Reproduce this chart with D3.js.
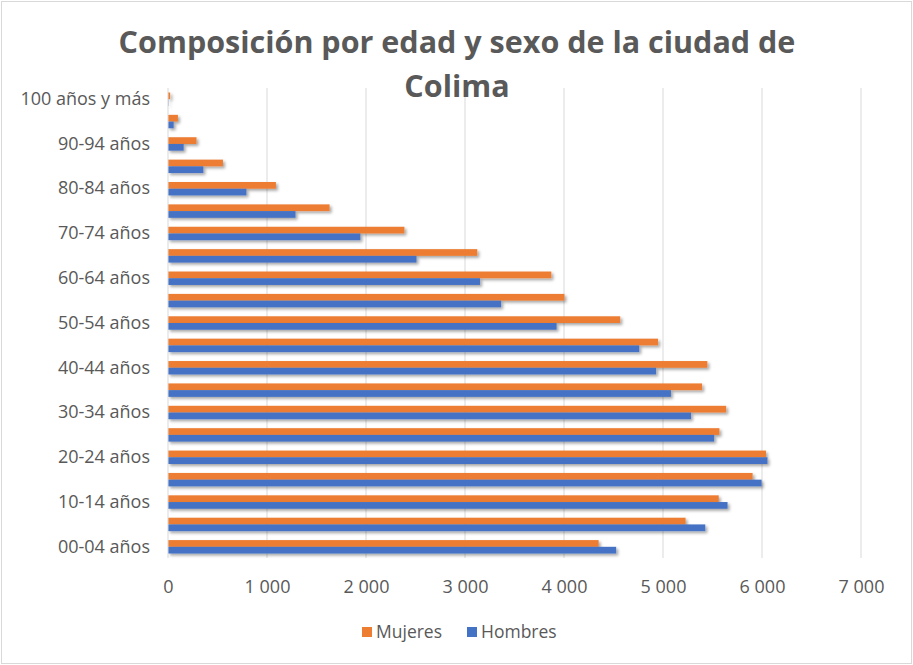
<!DOCTYPE html>
<html>
<head>
<meta charset="utf-8">
<script src="https://cdn.jsdelivr.net/npm/d3@7"></script>
<style>
  body { margin: 0; background: #fff; }
  text { font-family: "Open Sans", Lato, sans-serif; fill: #595959; }
</style>
</head>
<body>
<div id="chart"></div>
<script>
var svgWidth = 913;
var svgHeight = 665;

var margin = { top: 88, right: 52, bottom: 107, left: 168 };
var width = svgWidth - margin.left - margin.right;
var height = svgHeight - margin.top - margin.bottom;

// Age groups, bottom to top as in the picture
var ageGroups = ["00-04 años", "05-09 años", "10-14 años", "15-19 años", "20-24 años",
    "25-29 años", "30-34 años", "35-39 años", "40-44 años", "45-49 años",
    "50-54 años", "55-59 años", "60-64 años", "65-69 años", "70-74 años",
    "75-79 años", "80-84 años", "85-89 años", "90-94 años", "95-99 años", "100 años y más"];

var mujeres = [4350, 5228, 5563, 5905, 6040, 5570, 5638, 5395, 5448, 4950,
    4568, 4004, 3872, 3124, 2388, 1632, 1090, 555, 288, 100, 22];
var hombres = [4527, 5427, 5652, 5996, 6055, 5517, 5283, 5080, 4930, 4760,
    3925, 3365, 3152, 2510, 1943, 1288, 792, 357, 158, 57, 4];

var xTicks = [0, 1000, 2000, 3000, 4000, 5000, 6000, 7000];
var series = [
    { name: "Mujeres", values: mujeres, color: "#ED7D31" },
    { name: "Hombres", values: hombres, color: "#4472C4" }
];

var svg = d3.select("#chart")
    .append("svg")
    .attr("width", svgWidth)
    .attr("height", svgHeight);

// shadow like the spreadsheet bars
var defs = svg.append("defs");
var filter = defs.append("filter")
    .attr("id", "shadow")
    .attr("x", "-5%").attr("y", "-50%")
    .attr("width", "115%").attr("height", "250%");
filter.append("feDropShadow")
    .attr("dx", 2).attr("dy", 2)
    .attr("stdDeviation", 1.5)
    .attr("flood-color", "#000")
    .attr("flood-opacity", 0.35);

// outer frame
svg.append("rect")
    .attr("x", 1.5).attr("y", 1.5)
    .attr("width", svgWidth - 3).attr("height", svgHeight - 3)
    .attr("fill", "#fff")
    .attr("stroke", "#d9d9d9")
    .attr("stroke-width", 1);

var chartGroup = svg.append("g")
    .attr("transform", `translate(${margin.left}, ${margin.top})`);

var xLinearScale = d3.scaleLinear()
    .domain([0, 7000])
    .range([0, width]);

var yBand = d3.scaleBand()
    .domain(ageGroups.slice().reverse())
    .range([0, height])
    .paddingInner(0.4)
    .paddingOuter(0.2);

var ySub = d3.scaleBand()
    .domain(series.map(s => s.name))
    .range([0, yBand.bandwidth()]);

// gridlines
chartGroup.selectAll(".grid")
    .data(xTicks.slice(1))
    .enter()
    .append("line")
    .attr("x1", d => xLinearScale(d))
    .attr("x2", d => xLinearScale(d))
    .attr("y1", 0)
    .attr("y2", height)
    .attr("stroke", "#d9d9d9")
    .attr("stroke-width", 1);

// x axis labels
var bottomAxis = d3.axisBottom(xLinearScale)
    .tickValues(xTicks)
    .tickSize(0)
    .tickPadding(22)
    .tickFormat(d => d3.format(",")(d).replace(",", " "));

var xAxis = chartGroup.append("g")
    .attr("transform", `translate(0, ${height})`)
    .call(bottomAxis);
xAxis.select(".domain").remove();
xAxis.selectAll("text")
    .style("font-size", "18px")
    .style("font-family", "'Open Sans', sans-serif")
    .attr("fill", "#595959");

// bars
series.forEach(function(s) {
    chartGroup.append("g")
        .attr("filter", "url(#shadow)")
        .selectAll("rect")
        .data(ageGroups.map((g, i) => ({ group: g, value: s.values[i] })))
        .enter()
        .append("rect")
        .attr("x", 0)
        .attr("y", d => yBand(d.group) + ySub(s.name))
        .attr("width", d => xLinearScale(d.value))
        .attr("height", ySub.bandwidth())
        .attr("fill", s.color);
});

// category axis line
chartGroup.append("line")
    .attr("x1", 0).attr("x2", 0)
    .attr("y1", 0).attr("y2", height)
    .attr("stroke", "#d9d9d9");

// y axis labels (every other category)
var leftAxis = d3.axisLeft(yBand)
    .tickValues(ageGroups.filter((g, i) => i % 2 === 0))
    .tickSize(0)
    .tickPadding(18);
var yAxis = chartGroup.append("g").call(leftAxis);
yAxis.select(".domain").remove();
yAxis.selectAll("text")
    .style("font-size", "18px")
    .style("font-family", "'Open Sans', sans-serif")
    .attr("fill", "#595959");

// title
var title = svg.append("text")
    .attr("text-anchor", "middle")
    .style("font-size", "30.5px")
    .style("font-weight", "bold")
    .attr("fill", "#595959");
title.append("tspan")
    .attr("x", 457).attr("y", 53)
    .text("Composición por edad y sexo de la ciudad de");
title.append("tspan")
    .attr("x", 457).attr("y", 97)
    .text("Colima");

// legend
var legendX = [362, 467];
var legend = svg.append("g");
series.forEach(function(s, i) {
    legend.append("rect")
        .attr("x", legendX[i]).attr("y", 627)
        .attr("width", 10).attr("height", 10)
        .attr("fill", s.color);
    legend.append("text")
        .attr("x", legendX[i] + 14).attr("y", 638)
        .style("font-size", "17.5px")
        .text(s.name);
});
</script>
</body>
</html>
